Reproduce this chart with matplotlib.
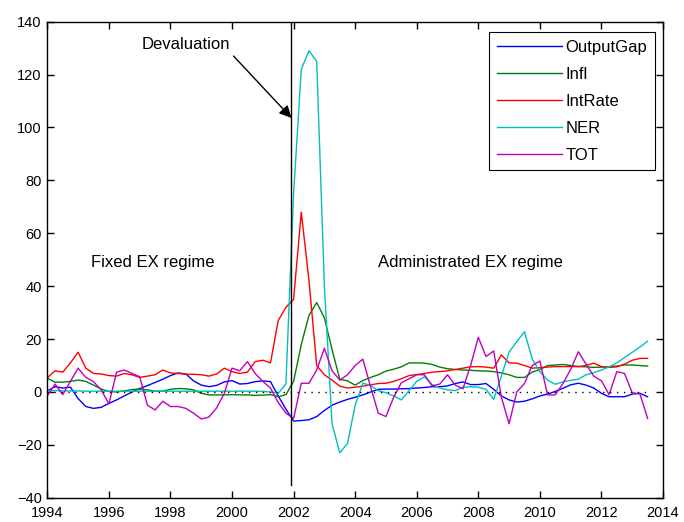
import numpy as np
import matplotlib
matplotlib.use("Agg")
import matplotlib.pyplot as plt

plt.rcParams['font.family'] = ['Liberation Sans', 'DejaVu Sans']

# quarterly, 1994Q1 .. 2013Q3
quarters = np.arange(1994, 2013.75, 0.25)

output_gap = [0.4, 2.0, 1.5, 1.8, -2.5, -5.5, -6.2, -5.8, -4.3, -3.0,
              -1.5, 0.0, 1.3, 2.4, 3.6, 4.8, 6.2, 7.2, 6.8, 4.2,
              2.6, 2.0, 2.5, 3.8, 4.3, 3.0, 3.2, 3.9, 4.2, 3.9,
              -1.5, -6.5, -11.0, -10.8, -10.5, -9.3, -7.0, -5.0, -3.8, -2.8,
              -2.0, -1.1, 0.0, 1.0, 1.1, 1.1, 1.2, 1.3, 1.5, 1.7,
              2.0, 2.0, 2.3, 3.2, 3.8, 2.8, 2.8, 3.2, 1.0, -1.5,
              -3.0, -3.8, -3.5, -2.6, -1.5, -0.8, 0.2, 1.4, 2.7, 3.3,
              2.6, 1.5, -0.5, -1.8, -1.8, -1.8, -0.8, -0.5, -1.8]

infl = [5.2, 3.7, 3.7, 4.0, 4.5, 4.0, 2.6, 1.1, 0.2, 0.0,
        0.4, 0.9, 1.1, 0.8, 0.3, 0.3, 1.0, 1.3, 1.2, 0.8,
        -0.5, -1.1, -1.1, -1.1, -1.0, -1.1, -1.1, -1.3, -1.2, -1.0,
        -1.8, -1.0, 4.0, 18.0, 29.0, 33.8, 28.0, 16.0, 4.8, 4.2,
        2.6, 4.3, 5.5, 6.5, 7.9, 8.6, 9.5, 11.0, 11.0, 10.9,
        10.4, 9.4, 8.8, 8.5, 8.3, 8.2, 8.0, 7.9, 7.7, 7.2,
        6.5, 5.5, 5.5, 7.5, 8.5, 10.0, 10.2, 10.4, 10.0, 9.6,
        9.5, 9.3, 9.4, 9.5, 9.8, 10.2, 10.2, 10.0, 9.8]

int_rate = [5.4, 8.0, 7.5, 11.0, 15.0, 9.0, 7.0, 6.8, 6.2, 6.0,
            7.0, 6.5, 5.5, 6.0, 6.5, 8.3, 7.2, 7.0, 6.7, 6.7,
            6.5, 6.0, 6.8, 9.0, 7.7, 7.0, 7.5, 11.5, 12.0, 11.0,
            27.0, 32.0, 35.0, 68.0, 42.0, 10.0, 6.5, 4.5, 2.2, 1.5,
            1.8, 2.2, 2.7, 3.2, 3.3, 4.0, 5.0, 6.2, 6.6, 7.0,
            7.5, 7.7, 8.0, 8.5, 9.0, 9.5, 9.6, 9.4, 9.0, 14.0,
            11.0, 10.9, 10.0, 9.0, 9.2, 9.4, 9.6, 9.6, 9.6, 9.6,
            10.0, 10.9, 9.6, 9.3, 9.5, 10.5, 12.0, 12.7, 12.7]

ner = [0.5, 0.5, 0.4, 0.4, 0.4, 0.3, 0.3, 0.3, 0.3, 0.3,
       0.3, 0.3, 0.3, 0.3, 0.3, 0.3, 0.3, 0.3, 0.3, 0.3,
       0.3, 0.3, 0.3, 0.3, 0.3, 0.3, 0.3, 0.3, 0.2, 0.0,
       -0.5, 3.0, 75.0, 122.0, 129.0, 125.0, 40.0, -12.0, -23.0, -19.5,
       -5.0, 3.3, 2.5, 0.5, -0.3, -1.5, -3.0, 0.5, 4.0, 5.8,
       2.8, 1.5, 0.8, 0.5, 1.8, 2.0, 1.8, 1.0, -2.8, 6.0,
       15.0, 19.0, 22.8, 12.5, 7.7, 4.5, 2.9, 3.8, 4.4, 4.8,
       6.5, 7.3, 8.3, 9.5, 11.0, 13.0, 15.0, 17.0, 19.2]

tot = [-1.5, 3.0, -1.0, 4.0, 9.0, 5.5, 3.9, 0.8, -4.5, 7.5,
       8.3, 7.0, 5.8, -5.0, -6.8, -3.5, -5.5, -5.5, -6.2, -8.0,
       -10.2, -9.5, -6.0, -0.5, 9.0, 8.0, 11.5, 7.0, 4.0, 1.5,
       -4.0, -8.0, -10.0, 3.3, 3.3, 8.3, 16.5, 8.0, 4.5, 6.5,
       10.0, 12.4, 2.0, -8.0, -9.3, -2.0, 3.5, 5.0, 6.5, 6.5,
       2.3, 3.0, 6.5, 2.6, 1.2, 10.0, 20.7, 13.4, 15.5, -2.0,
       -12.0, 0.0, 3.2, 10.0, 11.7, -1.1, -1.1, 3.2, 8.5, 15.2,
       10.5, 6.0, 4.2, -1.0, 7.7, 7.0, -0.3, -0.7, -10.0]

series = [("OutputGap", output_gap, "#0000ff"),
          ("Infl", infl, "#008000"),
          ("IntRate", int_rate, "#ff0000"),
          ("NER", ner, "#00bfbf"),
          ("TOT", tot, "#bf00bf")]

devaluation = 2001.93

fig = plt.figure(figsize=(6.84, 5.22), dpi=100)
ax = fig.add_axes([0.0692, 0.0464, 0.9001, 0.9121])

for name, vals, col in series:
    ax.plot(quarters, vals, color=col, lw=1.0, label=name)

# zero line and devaluation marker
ax.plot([quarters[0], quarters[-1]], [0, 0], color="k", lw=1.0, dashes=(1, 4))
ax.plot([devaluation, devaluation], [-35, 140], color="k", lw=1.0)

ax.text(1998.5, 131.2, "Devaluation", fontsize=12, ha="center", va="center")
ax.annotate("", xy=(devaluation, 103.6), xytext=(2000.05, 127),
            arrowprops=dict(arrowstyle="-|>", color="k", lw=1.0,
                            mutation_scale=18, shrinkA=0, shrinkB=0))
ax.text(1997.43, 49.1, "Fixed EX regime", fontsize=12, ha="center", va="center")
ax.text(2007.73, 49.1, "Administrated EX regime", fontsize=12,
        ha="center", va="center")

ax.set_xlim(1994, 2014)
ax.set_ylim(-40, 140)
ax.set_xticks(np.arange(1994, 2015, 2))
ax.set_yticks(np.arange(-40, 141, 20))
ax.tick_params(direction="in", length=5, width=1, top=True, right=True,
               labelsize=10.5)
ax.tick_params(axis="x", pad=6)
ax.tick_params(axis="y", pad=4)
for sp in ax.spines.values():
    sp.set_linewidth(1.0)

leg = ax.legend(loc="upper right", bbox_to_anchor=(0.987, 0.978),
                borderaxespad=0, fontsize=12, handlelength=3.9,
                handletextpad=0.25, labelspacing=0.72, fancybox=False,
                framealpha=1, edgecolor="k", borderpad=0.45)
leg.get_frame().set_linewidth(0.8)

fig.savefig("out.png", dpi=100, facecolor="white")
